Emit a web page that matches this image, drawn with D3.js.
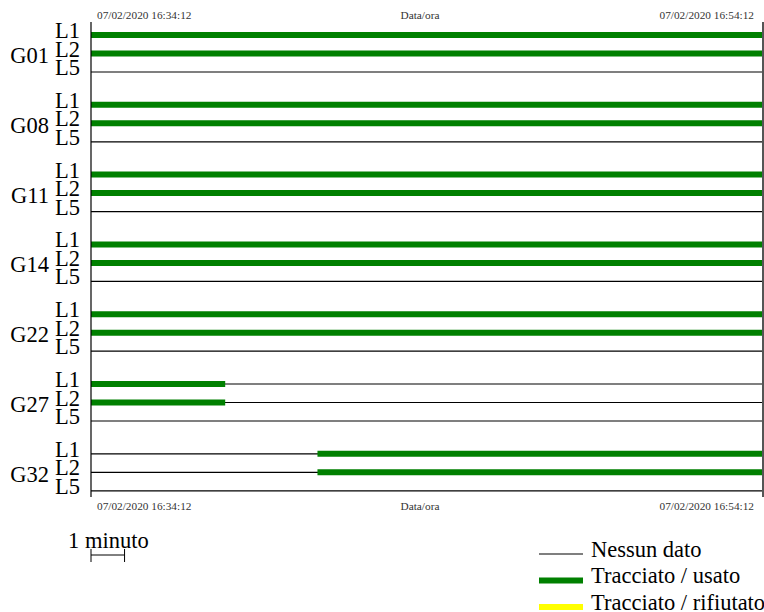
<!DOCTYPE html>
<html><head><meta charset="utf-8">
<script src="https://cdn.jsdelivr.net/npm/d3@7/dist/d3.min.js"></script>
<style>body{margin:0;background:#fff}svg{display:block}</style>
</head><body>
<svg id="c" width="764" height="612"></svg>
<script>
const groups = ["G01","G08","G11","G14","G22","G27","G32"];
const signals = ["L1","L2","L5"];
const startTime = "07/02/2020 16:34:12";
const endTime = "07/02/2020 16:54:12";
const axisTitle = "Data/ora";
// tracked/used interval per group (applies to L1 and L2), times "HH:MM:SS"
const usedSignals = ["L1","L2"];
const usedStart = ["16:34:12","16:34:12","16:34:12","16:34:12","16:34:12","16:34:12","16:40:57"];
const usedEnd   = ["16:54:12","16:54:12","16:54:12","16:54:12","16:54:12","16:38:12","16:54:12"];
const legendLabels = ["Nessun dato","Tracciato / usato","Tracciato / rifiutato"];
const legendColors = ["#000000","#008000","#ffff00"];
const scaleLabel = "1 minuto";

const parse = d3.timeParse("%d/%m/%Y %H:%M:%S");
const fmt = d3.timeFormat("%d/%m/%Y %H:%M:%S");
const t0 = parse(startTime), t1 = parse(endTime);
const day = "07/02/2020 ";

const svg = d3.select("#c");
const x = d3.scaleTime().domain([t0, t1]).range([91, 762]);
const yG = d3.scaleBand().domain(groups).range([22, 22 + 7*69.8]);
const yS = d3.scalePoint().domain(signals).range([0, 37]);
const rowY = (g, s) => yG(g) + 13 + yS(s);

const serif = "'Liberation Serif','Times New Roman',serif";
const big = 22.5, small = 11.3;

// Rows
groups.forEach((g, gi) => {
  signals.forEach(s => {
    const y = rowY(g, s);
    svg.append("line").attr("x1", x(t0)).attr("x2", x(t1)).attr("y1", y).attr("y2", y)
      .attr("stroke", "#000").attr("stroke-width", 1.2);
    if (usedSignals.includes(s)) {
      const a = parse(day + usedStart[gi]), b = parse(day + usedEnd[gi]);
      svg.append("line").attr("x1", x(a)).attr("x2", x(b)).attr("y1", y).attr("y2", y)
        .attr("stroke", legendColors[1]).attr("stroke-width", 6);
    }
    svg.append("text").attr("x", 80).attr("y", y + 3).attr("text-anchor", "end")
      .attr("font-family", serif).attr("font-size", big).text(s);
  });
  svg.append("text").attr("x", 49).attr("y", rowY(g, "L2") + 9.5).attr("text-anchor", "end")
    .attr("font-family", serif).attr("font-size", big).text(g);
});

// Axes frame
svg.append("line").attr("x1", 91).attr("x2", 91).attr("y1", 22).attr("y2", 497)
  .attr("stroke", "#000").attr("stroke-width", 1.2);
svg.append("line").attr("x1", 763).attr("x2", 763).attr("y1", 22).attr("y2", 497)
  .attr("stroke", "#555").attr("stroke-width", 2);

// Time labels top and bottom
[19, 510].forEach(ty => {
  svg.append("text").attr("x", x(t0) + 6).attr("y", ty).attr("font-family", serif)
    .attr("font-size", small).attr("fill", "#333").text(fmt(t0));
  svg.append("text").attr("x", x(t1) - 8).attr("y", ty).attr("text-anchor", "end").attr("font-family", serif)
    .attr("font-size", small).attr("fill", "#333").text(fmt(t1));
  svg.append("text").attr("x", 420).attr("y", ty).attr("text-anchor", "middle").attr("font-family", serif)
    .attr("font-size", small).attr("fill", "#333").text(axisTitle);
});

// Scale bar: 1 minute
const m1 = d3.timeMinute.offset(t0, 1);
const sb = svg.append("g");
sb.append("line").attr("x1", x(t0)).attr("x2", x(m1)).attr("y1", 555).attr("y2", 555).attr("stroke", "#000");
[t0, m1].forEach(t => sb.append("line").attr("x1", x(t)).attr("x2", x(t)).attr("y1", 549).attr("y2", 562).attr("stroke", "#000"));
svg.append("text").attr("x", 68).attr("y", 548).attr("font-family", serif).attr("font-size", big).text(scaleLabel);

// Legend
legendLabels.forEach((l, i) => {
  const ly = 554 + i*26.5;
  svg.append("line").attr("x1", 539).attr("x2", 583).attr("y1", ly).attr("y2", ly)
    .attr("stroke", legendColors[i]).attr("stroke-width", i === 0 ? 1.2 : 6);
  svg.append("text").attr("x", 591).attr("y", ly + 2.5).attr("font-family", serif)
    .attr("font-size", big).text(l);
});
</script>
</body></html>
